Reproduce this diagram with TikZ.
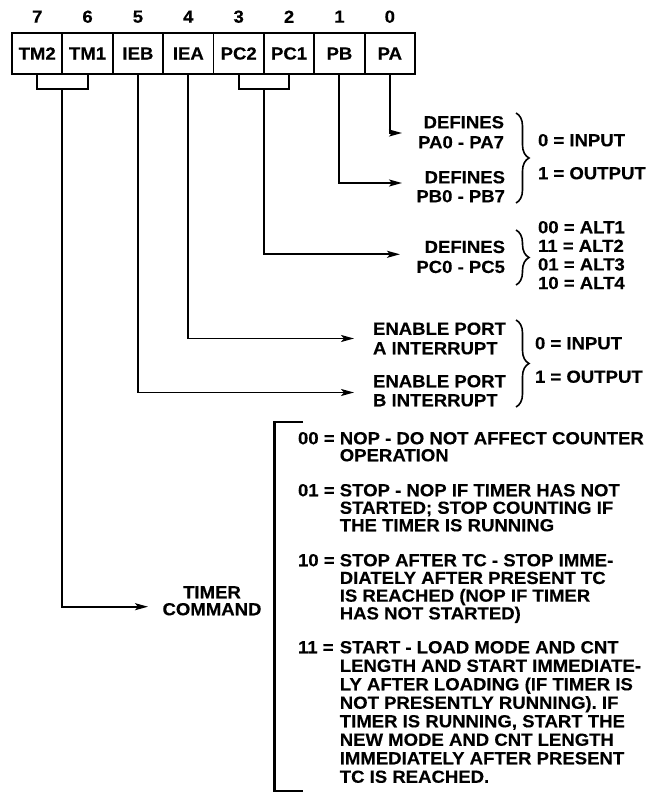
\documentclass[tikz,border=0pt]{standalone}
\usepackage{fontspec}
\setmainfont{Liberation Sans}[FakeStretch=1.06,BoldFeatures={FakeBold=0.3}]
\usetikzlibrary{arrows.meta,decorations.pathreplacing,calc}
\newcommand\dfont[1]{\bfseries\fontsize{17.5}{#1}\selectfont}
\newcommand\tstrut{\rule{0pt}{13pt}}
\begin{document}
\begin{tikzpicture}[x=1pt,y=-1pt,
  every node/.style={inner sep=0pt, outer sep=0pt, font=\dfont{17.2}},
  cell/.style={draw, line width=1.8pt, minimum width=50.375pt, minimum height=41pt},
  conn/.style={line width=1.9pt},
  arr/.style={conn, -{Stealth[length=13pt,width=7pt,inset=3pt]}},
  brc/.style={line width=1.6pt, decorate, decoration={brace, amplitude=13pt}},
  ]
\useasboundingbox (0,0) rectangle (658,794);

% register cells and bit numbers
\foreach \lab [count=\i from 0] in {TM2,TM1,IEB,IEA,PC2,PC1,PB,PA} {
  \node[cell] (c\i) at ({12+50.375*(\i+0.5)}, 53.5) {\lab};
}
\foreach \num [count=\i from 0] in {7,6,5,4,3,2,1,0} {
  \node (b\i) at ({12+50.375*(\i+0.5)}, 16.7) {\num};
}

% right-hand text blocks
\node[anchor=north east, align=right, font=\dfont{20}] (dpa) at (504,115.25) {\tstrut DEFINES\\PA0 - PA7};
\node[anchor=north east, align=right, font=\dfont{19}] (dpb) at (505,170.25) {\tstrut DEFINES\\PB0 - PB7};
\node[anchor=north east, align=right, font=\dfont{20}] (dpc) at (505,239.95) {\tstrut DEFINES\\PC0 - PC5};
\node[anchor=base west] (in1) at (538,146.25) {0 = INPUT};
\node[anchor=base west] (out1) at (538,179.25) {1 = OUTPUT};
\node[anchor=north west, align=left, font=\dfont{18.6}] (alt) at (538,220.25) {\tstrut 00 = ALT1\\11 = ALT2\\01 = ALT3\\10 = ALT4};
\node[anchor=north west, align=left, font=\dfont{19.5}] (epa) at (373,321.75) {\tstrut ENABLE PORT\\A INTERRUPT};
\node[anchor=north west, align=left, font=\dfont{19}] (epb) at (373,374.25) {\tstrut ENABLE PORT\\B INTERRUPT};
\node[anchor=base west] (in2) at (535,349.25) {0 = INPUT};
\node[anchor=base west] (out2) at (535,382.75) {1 = OUTPUT};
\node[anchor=north, align=center, font=\dfont{17}] (tc) at (212,585.25) {\tstrut TIMER\\COMMAND};

% timer command codes
\node[anchor=base west] (k00) at (298,444.25) {00 =};
\node[anchor=north west, align=left, font=\dfont{17}] (d00) at (339.8,431.25) {\tstrut NOP - DO NOT AFFECT COUNTER\\OPERATION};
\node[anchor=base west] (k01) at (298,496.25) {01 =};
\node[anchor=north west, align=left, font=\dfont{17.5}] (d01) at (339.8,483.25) {\tstrut STOP - NOP IF TIMER HAS NOT\\STARTED; STOP COUNTING IF\\THE TIMER IS RUNNING};
\node[anchor=base west] (k10) at (298,566.25) {10 =};
\node[anchor=north west, align=left, font=\dfont{17.7}] (d10) at (339.8,553.25) {\tstrut STOP AFTER TC - STOP IMME-\\DIATELY AFTER PRESENT TC\\IS REACHED (NOP IF TIMER\\HAS NOT STARTED)};
\node[anchor=base west] (k11) at (298,653.25) {11 =};
\node[anchor=north west, align=left, font=\dfont{18.5}] (d11) at (339.8,640.25) {\tstrut START - LOAD MODE AND CNT\\LENGTH AND START IMMEDIATE-\\LY AFTER LOADING (IF TIMER IS\\NOT PRESENTLY RUNNING). IF\\TIMER IS RUNNING, START THE\\NEW MODE AND CNT LENGTH\\IMMEDIATELY AFTER PRESENT\\TC IS REACHED.};

% arrow end points
\coordinate (pain) at (402,133);
\coordinate (pbin) at (402,183);
\coordinate (pcin) at (400,254.3);
\coordinate (iain) at (354,338.5);
\coordinate (ibin) at (354,392.5);
\coordinate (tcin) at (148,606.7);

% connectors
\draw[conn] (c0.south) -- ++(0,15) -| (c1.south);
\coordinate (tmj) at ($(c0.south)!0.5!(c1.south)+(0,15)$);
\draw[arr] (tmj) |- (tcin);
\draw[arr] (c2.south) |- (ibin);
\draw[arr] (c3.south) |- (iain);
\draw[conn] (c4.south) -- ++(0,15) -| (c5.south);
\coordinate (pcj) at ($(c4.south)!0.5!(c5.south)+(0,15)$);
\draw[arr] (pcj) |- (pcin);
\draw[arr] (c6.south) |- (pbin);
\draw[arr] (c7.south) |- (pain);

% braces
\draw[brc] (516,113) -- (516,203);
\draw[brc] (516,230) -- (516,285);
\draw[brc] (516,320) -- (516,407);

% timer bracket
\draw[line width=2.2pt] (303,422) -- (274.5,422) -- (274.5,791) -- (303,791);
\end{tikzpicture}
\end{document}
